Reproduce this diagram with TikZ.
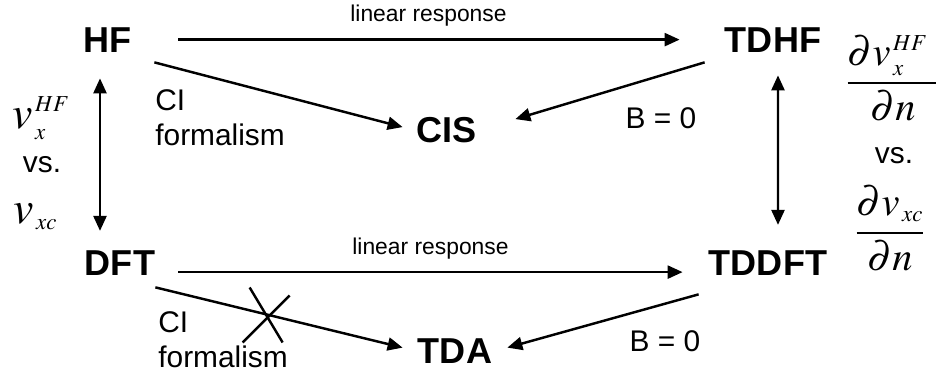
\documentclass[tikz,border=0pt]{standalone}
\usepackage{mathptmx}
\usepackage{fontspec}
\setmainfont{Liberation Sans}
\usetikzlibrary{arrows.meta, calc}
\DeclareMathSizes{26}{26}{13}{10}
\DeclareMathSizes{23}{23}{13}{10}
\tikzset{
  method/.style={font=\fontsize{20.5}{24}\selectfont\bfseries, inner sep=0pt},
  note/.style={font=\fontsize{17}{20}\selectfont, inner sep=0pt, align=left},
  small/.style={font=\fontsize{13}{15}\selectfont, inner sep=0pt},
  bigmath/.style={font=\fontsize{26}{30}\selectfont, inner sep=0pt},
  fracmath/.style={font=\fontsize{23}{27}\selectfont, inner sep=0pt},
  arrow/.style={-{Triangle[length=0.3cm,width=0.26cm]}, line width=1.4pt},
  twoway/.style={{Triangle[length=0.3cm,width=0.26cm]}-{Triangle[length=0.3cm,width=0.26cm]}, line width=1.4pt},
  cross/.style={line width=1.4pt},
}

\begin{document}
\begin{tikzpicture}
  \useasboundingbox (0,0) rectangle (18.72,-7.52);

  % methods
  \node[method, anchor=base] (HF) at (2.16,-1.04) {HF};
  \node[method, anchor=base] (TDHF) at (15.46,-1.04) {TDHF};
  \node[method, anchor=base] (CIS) at (8.94,-2.84) {CIS};
  \node[method, anchor=base] (DFT) at (2.40,-5.50) {DFT};
  \node[method, anchor=base] (TDDFT) at (15.36,-5.50) {TDDFT};
  \node[method, anchor=base] (TDA) at (9.10,-7.26) {TDA};

  % top row
  \draw[arrow, shorten <=0.92cm, shorten >=0.9cm] (HF) -- (TDHF)
    node[midway, above=0.24cm, small] {linear response};
  \draw[arrow] ([xshift=0.44cm,yshift=-0.2cm]HF.south east) -- ([xshift=-0.28cm,yshift=0.05cm]CIS.west);
  \draw[arrow] ([xshift=-0.4cm,yshift=-0.2cm]TDHF.south west) -- ([xshift=0.76cm,yshift=0.21cm]CIS.east);
  \node[note, anchor=west] (ci1) at (3.1,-2.35) {CI\\formalism};
  \node[note] (b1) at (13.22,-2.36) {B = 0};

  % bottom row
  \draw[arrow] ([xshift=0.46cm,yshift=-0.19cm]DFT.east) -- ([xshift=-0.52cm,yshift=-0.19cm]TDDFT.west)
    node[midway, above=0.24cm, small] {linear response};
  \draw[arrow] ([yshift=-0.24cm]DFT.south east) -- coordinate[pos=0.45] (cut) ([xshift=-0.3cm,yshift=0.06cm]TDA.west);
  \draw[cross] ([shift={(-0.34,0.54)}]cut) -- ([shift={(0.32,-0.56)}]cut);
  \draw[cross] ([shift={(0.46,0.38)}]cut) -- ([shift={(-0.48,-0.56)}]cut);
  \draw[arrow] ([xshift=-0.2cm,yshift=-0.38cm]TDDFT.south west) -- ([xshift=0.3cm,yshift=0.06cm]TDA.east);
  \node[note, anchor=west] (ci2) at (3.16,-6.79) {CI\\formalism};
  \node[note] (b2) at (13.3,-6.83) {B = 0};

  % vertical links
  \draw[twoway] ([xshift=-0.16cm,yshift=-0.52cm]HF.south) -- ([xshift=-0.4cm,yshift=0.38cm]DFT.north);
  \draw[twoway] ([xshift=0.1cm,yshift=-0.46cm]TDHF.south) -- ([xshift=0.2cm,yshift=0.5cm]TDDFT.north);

  % potentials
  \node[bigmath, anchor=base west] (vhf) at (0.24,-2.56) {$v_{\,x}^{\,HF}$};
  \node[note] (vs1) at (0.84,-3.3) {vs.};
  \node[bigmath, anchor=base west] (vxc) at (0.26,-4.46) {$v_{\,xc}$};
  \node[fracmath, anchor=base] (dvhf) at (17.86,-1.86) {$\displaystyle\frac{\partial v_{\,x}^{\,HF}\hspace{6pt}}{\partial n}$};
  \node[note] (vs2) at (17.88,-3.11) {vs.};
  \node[fracmath, anchor=base] (dvxc) at (17.8,-4.86) {$\displaystyle\frac{\partial v_{\,xc}}{\partial n}$};
\end{tikzpicture}
\end{document}
